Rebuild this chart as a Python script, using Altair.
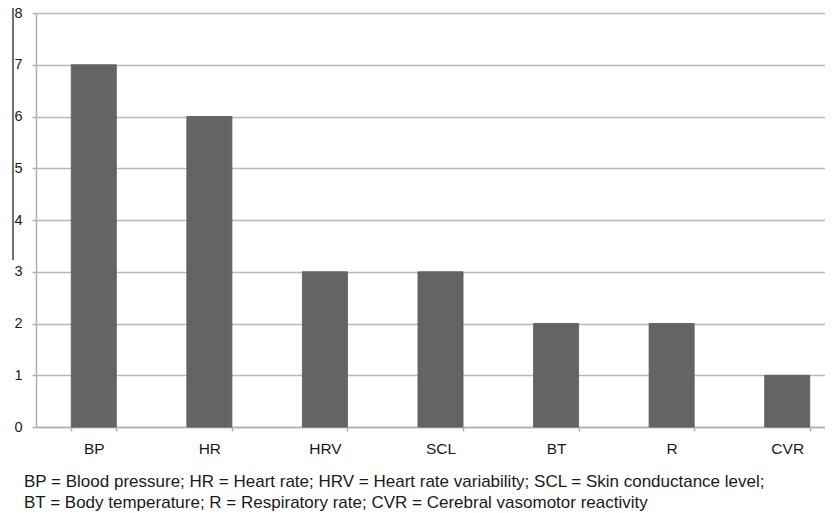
import altair as alt
import pandas as pd

categories = ["BP", "HR", "HRV", "SCL", "BT", "R", "CVR"]
counts = [7, 6, 3, 3, 2, 2, 1]
caption_lines = [
    "BP = Blood pressure; HR = Heart rate; HRV = Heart rate variability; SCL = Skin conductance level;",
    "BT = Body temperature; R = Respiratory rate; CVR = Cerebral vasomotor reactivity",
]
y_ticks = [0, 1, 2, 3, 4, 5, 6, 7, 8]

df = pd.DataFrame({"cat": categories, "n": counts})

FONT = "Liberation Sans"

bars = alt.Chart(df).mark_bar(color="#646464", stroke="#5a5a5a", strokeWidth=0.8).encode(
    x=alt.X(
        "cat:N",
        sort=categories,
        scale=alt.Scale(range=[0, 809], paddingInner=0.61, paddingOuter=0.305),
        axis=alt.Axis(
            title=None,
            labelAngle=0,
            tickBand="extent",
            tickSize=4,
            tickColor="#b0b0b0",
            tickWidth=1.5,
            domainColor="#b0b0b0",
            domainWidth=1.5,
            labelFont=FONT,
            labelFontSize=15.5,
            labelColor="#1a1a1a",
            labelPadding=10,
            grid=False,
        ),
    ),
    y=alt.Y(
        "n:Q",
        scale=alt.Scale(domain=[0, 8], nice=False),
        axis=alt.Axis(
            title=None,
            values=y_ticks,
            tickSize=4,
            tickColor="#b0b0b0",
            tickWidth=1.5,
            domainColor="#b0b0b0",
            domainWidth=1.5,
            gridColor="#b8b8b8",
            gridWidth=1.5,
            labelFont=FONT,
            labelFontSize=14.5,
            labelColor="#1a1a1a",
            labelPadding=10,
            format="d",
        ),
    ),
)

cap_df = pd.DataFrame({"line": caption_lines, "i": [0, 1]})
caption = alt.Chart(cap_df).mark_text(
    align="left", baseline="middle", font=FONT, fontSize=17, color="#1a1a1a"
).encode(
    text="line:N",
    x=alt.value(-12),
    y=alt.Y("i:Q", scale=alt.Scale(domain=[0, 1], range=[469, 489.5]), axis=None),
)

edge = alt.Chart(pd.DataFrame({"a": [0]})).mark_rule(color="#111111", strokeWidth=1.2).encode(
    x=alt.value(-23), y=alt.value(-13), y2=alt.value(247)
)

chart = alt.layer(bars, edge, caption).resolve_scale(y="independent").properties(
    width=789,
    height=414,
    autosize=alt.AutoSizeParams(type="none"),
    padding={"left": 28, "top": 5, "right": 0, "bottom": 84},
).configure_view(stroke=None).configure(background="white")

chart.save("out.html", embed_options={"renderer": "svg", "actions": False})
